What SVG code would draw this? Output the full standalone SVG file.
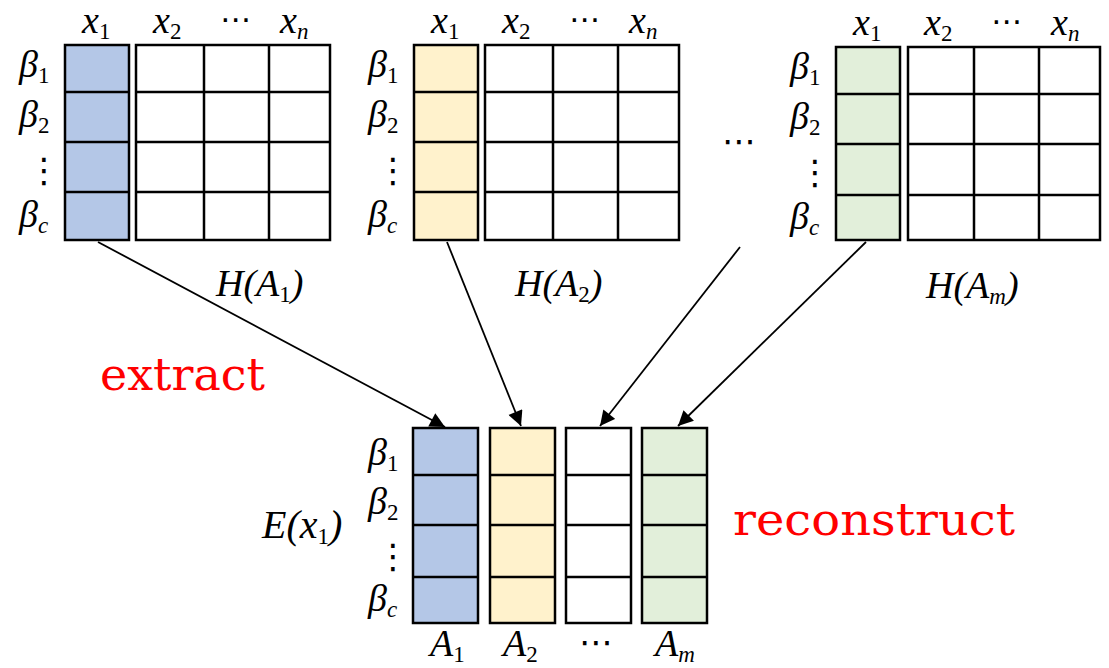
<svg xmlns="http://www.w3.org/2000/svg" width="1109" height="668" viewBox="0 0 1109 668">
<style>
.g{stroke:#000;stroke-width:2.5}
.ln{fill:none;stroke:#000;stroke-width:2.5}
.b{fill:#b4c7e7}
.y{fill:#fff2cc}
.gr{fill:#e2efda}
.w{fill:#fff}
.m{font-family:"Liberation Serif",serif;font-style:italic;font-size:38px;fill:#000}
.s{font-style:normal;font-size:23px}
.si{font-style:italic;font-size:23px}
.d{font-family:"DejaVu Sans",sans-serif;font-size:34px;fill:#000}
.dt{font-family:"DejaVu Sans",sans-serif;font-size:31px;fill:#000}
.r{font-family:"DejaVu Serif",serif;font-size:45px;fill:#ff0000}
.c{stroke:#000;stroke-width:1.8;fill:none;marker-end:url(#ah)}
</style>
<defs>
<marker id="ah" viewBox="0 0 10 10" refX="10" refY="5" markerWidth="17" markerHeight="15" markerUnits="userSpaceOnUse" orient="auto">
<path d="M0,0 L10,5 L0,10 z" fill="#000"/>
</marker>
</defs>

<g id="H1">
<rect x="65" y="45" width="64" height="195" class="g b"/>
<path class="ln" d="M65,92H129M65,142H129M65,192H129"/>
<rect x="136" y="45" width="194" height="195" class="g w"/>
<path class="ln" d="M136,92H330M136,142H330M136,192H330M204,45V240M269,45V240"/>
<text class="m" x="82" y="33">x<tspan class="s" dy="6">1</tspan></text>
<text class="m" x="153" y="33">x<tspan class="s" dy="6">2</tspan></text>
<text class="dt" x="220" y="30">⋯</text>
<text class="m" x="280" y="33">x<tspan class="si" dy="6">n</tspan></text>
<text class="m" x="19" y="77">β<tspan class="s" dy="6">1</tspan></text>
<text class="m" x="19" y="127">β<tspan class="s" dy="6">2</tspan></text>
<text class="d" x="27" y="182">⋮</text>
<text class="m" x="19" y="227">β<tspan class="si" dy="6">c</tspan></text>
<text class="m" x="216" y="296">H(A<tspan class="s" dy="6">1</tspan><tspan dy="-6">)</tspan></text>
</g>

<g id="H2">
<rect x="414" y="45" width="64" height="195" class="g y"/>
<path class="ln" d="M414,92H478M414,142H478M414,192H478"/>
<rect x="485" y="45" width="194" height="195" class="g w"/>
<path class="ln" d="M485,92H679M485,142H679M485,192H679M553,45V240M618,45V240"/>
<text class="m" x="431" y="33">x<tspan class="s" dy="6">1</tspan></text>
<text class="m" x="502" y="33">x<tspan class="s" dy="6">2</tspan></text>
<text class="dt" x="569" y="30">⋯</text>
<text class="m" x="629" y="33">x<tspan class="si" dy="6">n</tspan></text>
<text class="m" x="368" y="77">β<tspan class="s" dy="6">1</tspan></text>
<text class="m" x="368" y="127">β<tspan class="s" dy="6">2</tspan></text>
<text class="d" x="376" y="182">⋮</text>
<text class="m" x="368" y="227">β<tspan class="si" dy="6">c</tspan></text>
<text class="m" x="515" y="296">H(A<tspan class="s" dy="6">2</tspan><tspan dy="-6">)</tspan></text>
</g>

<text id="dots" class="d" x="722" y="153">⋯</text>

<g id="Hm">
<rect x="836" y="47" width="64" height="193" class="g gr"/>
<path class="ln" d="M836,94H900M836,144H900M836,195H900"/>
<rect x="908" y="47" width="192" height="193" class="g w"/>
<path class="ln" d="M908,94H1100M908,144H1100M908,195H1100M974,47V240M1039,47V240"/>
<text class="m" x="853" y="35">x<tspan class="s" dy="6">1</tspan></text>
<text class="m" x="924" y="35">x<tspan class="s" dy="6">2</tspan></text>
<text class="dt" x="991" y="32">⋯</text>
<text class="m" x="1051" y="35">x<tspan class="si" dy="6">n</tspan></text>
<text class="m" x="790" y="79">β<tspan class="s" dy="6">1</tspan></text>
<text class="m" x="790" y="129">β<tspan class="s" dy="6">2</tspan></text>
<text class="d" x="798" y="184">⋮</text>
<text class="m" x="790" y="229">β<tspan class="si" dy="6">c</tspan></text>
<text class="m" x="926" y="298">H(A<tspan class="si" dy="6">m</tspan><tspan dy="-6">)</tspan></text>
</g>

<g id="E">
<rect x="413" y="428" width="65" height="195" class="g b"/>
<path class="ln" d="M413,475H478M413,525H478M413,577H478"/>
<rect x="490" y="428" width="65" height="195" class="g y"/>
<path class="ln" d="M490,475H555M490,525H555M490,577H555"/>
<rect x="566" y="428" width="65" height="195" class="g w"/>
<path class="ln" d="M566,475H631M566,525H631M566,577H631"/>
<rect x="642" y="428" width="65" height="195" class="g gr"/>
<path class="ln" d="M642,475H707M642,525H707M642,577H707"/>
<text class="m" x="368" y="465">β<tspan class="s" dy="6">1</tspan></text>
<text class="m" x="368" y="514">β<tspan class="s" dy="6">2</tspan></text>
<text class="d" x="376" y="568">⋮</text>
<text class="m" x="368" y="611">β<tspan class="si" dy="6">c</tspan></text>
<text class="m" x="262" y="538" style="font-size:40px">E(x<tspan class="s" dy="6">1</tspan><tspan dy="-6">)</tspan></text>
<text class="m" x="430" y="656">A<tspan class="s" dy="6">1</tspan></text>
<text class="m" x="503" y="656">A<tspan class="s" dy="6">2</tspan></text>
<text class="d" x="579" y="654">⋯</text>
<text class="m" x="655" y="656">A<tspan class="si" dy="6">m</tspan></text>
</g>

<text id="extract" class="r" x="100" y="390" textLength="165" lengthAdjust="spacingAndGlyphs">extract</text>
<text id="reconstruct" class="r" x="733" y="535" textLength="282" lengthAdjust="spacingAndGlyphs">reconstruct</text>

<g id="connectors">
<line class="c" x1="98" y1="242" x2="445" y2="427"/>
<line class="c" x1="447" y1="242" x2="521" y2="426"/>
<line class="c" x1="740" y1="247" x2="600" y2="426"/>
<line class="c" x1="866" y1="242" x2="678" y2="426"/>
</g>
</svg>
